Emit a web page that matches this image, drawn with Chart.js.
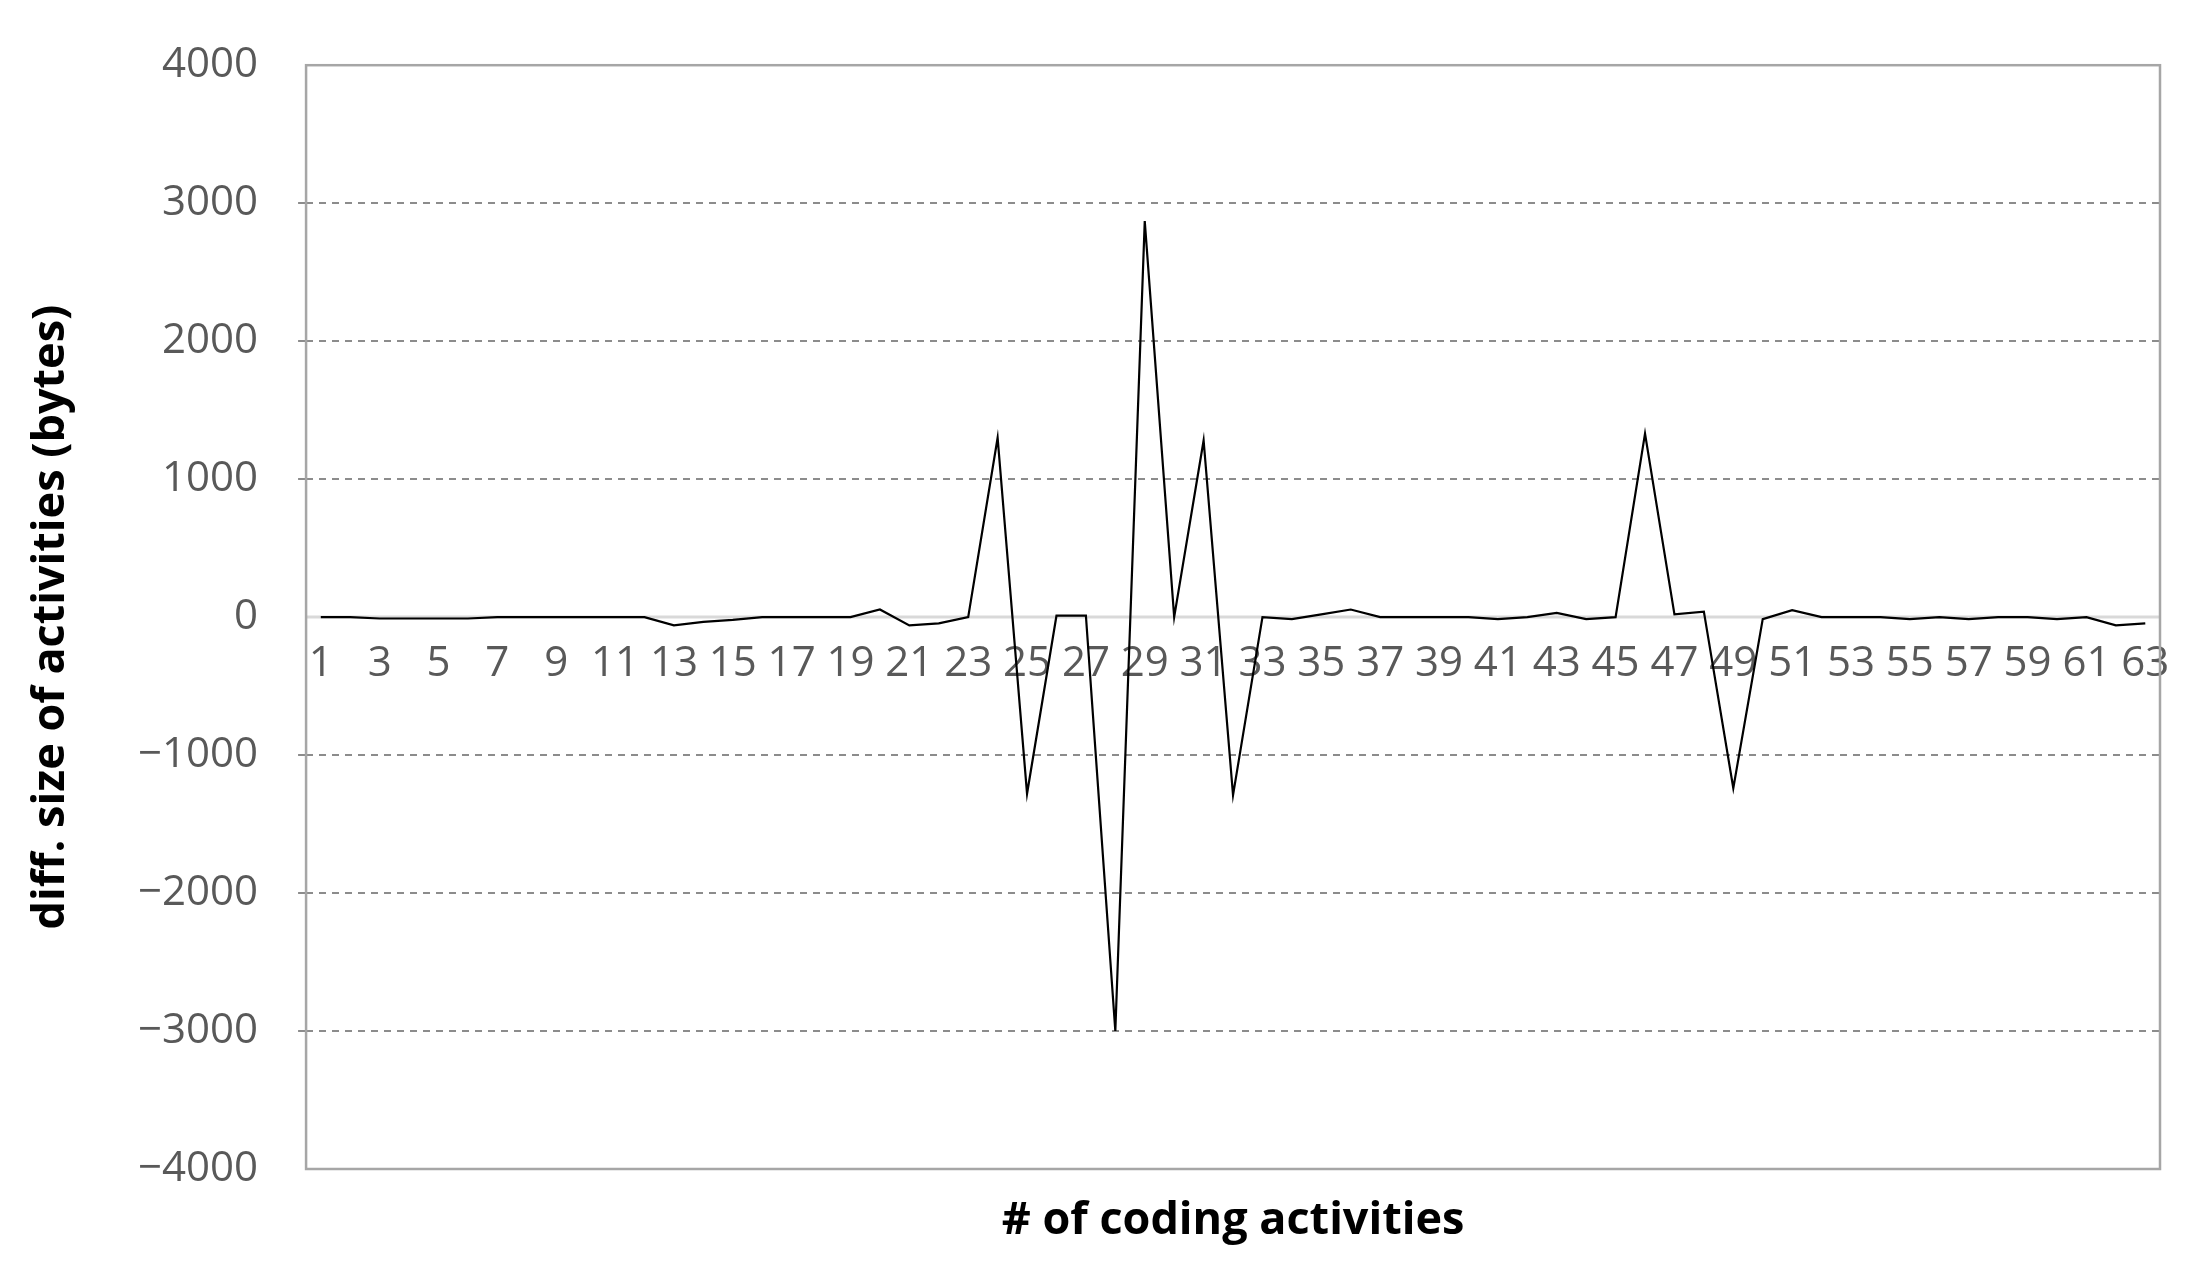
<!DOCTYPE html>
<html>
<head>
<meta charset="utf-8">
<script src="https://cdn.jsdelivr.net/npm/chart.js@4"></script>
<style>
  html, body { margin: 0; padding: 0; background: #fff; }
  #wrap { width: 2190px; height: 1266px; }
</style>
</head>
<body>
<div id="wrap"><canvas id="c"></canvas></div>
<script>
// data
const activityIds = Array.from({ length: 63 }, (_, i) => String(i + 1));
const sizeDiff = [
  0, 0, -10, -10, -10, -10, 0, 0, 0, 0,
  0, 0, -60, -35, -20, 0, 0, 0, 0, 55,
  -60, -45, 0, 1300, -1280, 10, 10, -3000, 2870, 0,
  1280, -1290, 0, -15, 20, 55, 0, 0, 0, 0,
  -15, 0, 30, -15, 0, 1330, 20, 40, -1240, -15,
  50, 0, 0, 0, -15, 0, -15, 0, 0, -15,
  0, -60, -45
];
const yTicks = [-4000, -3000, -2000, -1000, 0, 1000, 2000, 3000, 4000];
const xTitle = '# of coding activities';

const frame = {
  id: 'frame',
  beforeDatasetsDraw(chart) {
    const { ctx, chartArea: a, scales } = chart;
    ctx.save();
    const y0 = scales.y.getPixelForValue(0);
    ctx.strokeStyle = '#d9d9d9';
    ctx.lineWidth = 3;
    ctx.beginPath(); ctx.moveTo(a.left, y0); ctx.lineTo(a.right, y0); ctx.stroke();
    ctx.strokeStyle = '#a6a6a6';
    ctx.lineWidth = 2.5;
    ctx.strokeRect(a.left, a.top, a.right - a.left, a.bottom - a.top);
    ctx.restore();
  },
  afterDraw(chart) {
    // x title sits under the box, not under the moved axis
    const { ctx, chartArea: a } = chart;
    ctx.save();
    ctx.font = 'bold 45px "Open Sans"';
    ctx.fillStyle = '#000';
    ctx.textAlign = 'center';
    ctx.textBaseline = 'middle';
    ctx.fillText(xTitle, (a.left + a.right) / 2, a.bottom + 52);
    ctx.restore();
  }
};

new Chart(document.getElementById('c'), {
  type: 'line',
  data: {
    labels: activityIds,
    datasets: [{
      data: sizeDiff,
      borderColor: '#000',
      borderWidth: 2.2,
      pointRadius: 0,
      tension: 0
    }]
  },
  options: {
    animation: false,
    responsive: true,
    maintainAspectRatio: false,
    layout: { padding: { top: 44, right: 30, left: 20, bottom: 97 } },
    plugins: { legend: { display: false }, tooltip: { enabled: false } },
    scales: {
      x: {
        position: { y: 0 },
        offset: true,
        grid: { display: false },
        border: { display: false },
        ticks: {
          autoSkip: false,
          maxRotation: 0,
          padding: 14,
          color: '#595959',
          font: { size: 42, family: 'Open Sans' },
          callback: (v, i) => (i % 2 === 0 ? activityIds[i] : '')
        }
      },
      y: {
        min: -4000, max: 4000,
        afterBuildTicks: s => { s.ticks = yTicks.map(v => ({ value: v })); },
        grid: {
          color: c => (c.tick.value === 0 || Math.abs(c.tick.value) === 4000) ? 'rgba(0,0,0,0)' : '#8c8c8c',
          lineWidth: 2
        },
        border: { display: false, dash: [7, 6] },
        ticks: {
          padding: 40,
          color: '#595959',
          font: { size: 42, family: 'Open Sans' },
          callback: v => (v < 0 ? '\u2212' + Math.abs(v) : String(v))
        },
        title: {
          display: true,
          text: 'diff. size of activities (bytes)',
          color: '#000',
          font: { size: 45, weight: 'bold', family: 'Open Sans' },
          padding: { bottom: 20 }
        }
      }
    }
  },
  plugins: [frame]
});
</script>
</body>
</html>
